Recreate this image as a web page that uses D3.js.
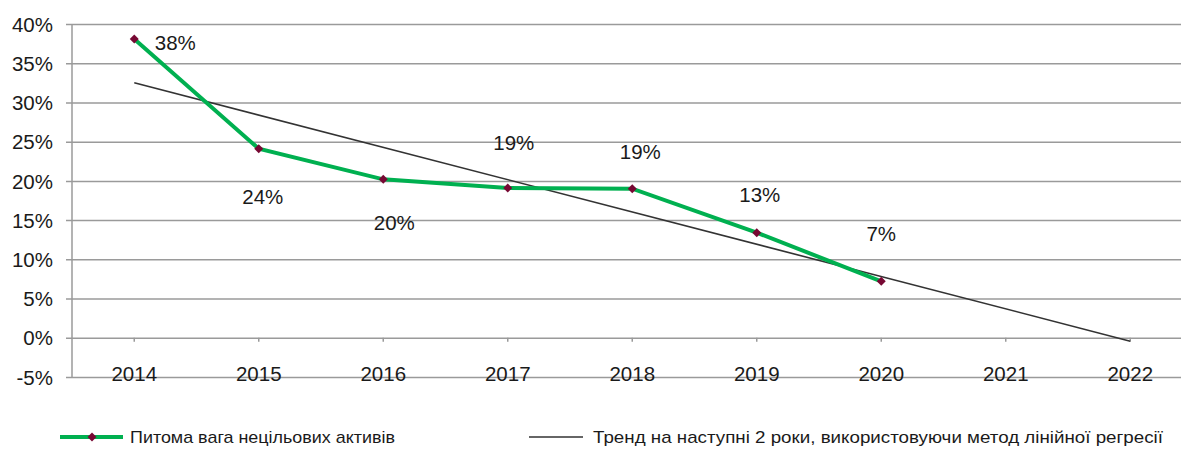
<!DOCTYPE html>
<html>
<head>
<meta charset="utf-8">
<script src="https://cdn.jsdelivr.net/npm/d3@7"></script>
<style>
  body { margin: 0; background: #fff; }
  text { font-family: "Liberation Sans", Arial, sans-serif; fill: #1a1a1a; }
</style>
</head>
<body>
<div class="chart"></div>
<script>
var years = ["2014", "2015", "2016", "2017", "2018", "2019", "2020", "2021", "2022"];
var shareYears = ["2014", "2015", "2016", "2017", "2018", "2019", "2020"];
var shareValues = [38.1, 24.1, 20.2, 19.1, 19.0, 13.4, 7.2];
var shareLabels = ["38%", "24%", "20%", "19%", "19%", "13%", "7%"];
var yTicks = [-5, 0, 5, 10, 15, 20, 25, 30, 35, 40];
var legendNames = ["Питома вага нецільових активів", "Тренд на наступні 2 роки, використовуючи метод лінійної регресії"];

var svgWidth = 1181;
var svgHeight = 455;

var margin = { top: 24, right: -11.5, bottom: 78, left: 72 };
var width = svgWidth - margin.left - margin.right;
var height = svgHeight - margin.top - margin.bottom;

var svg = d3.select(".chart")
  .append("svg")
  .attr("width", svgWidth)
  .attr("height", svgHeight);

var chartGroup = svg.append("g")
  .attr("transform", `translate(${margin.left}, ${margin.top})`);

var xScale = d3.scalePoint()
  .domain(years)
  .range([0, width])
  .padding(0.5);

var yScale = d3.scaleLinear()
  .domain([-5, 40])
  .range([height, 0]);

// gridlines + y labels
var leftAxis = d3.axisLeft(yScale)
  .tickValues(yTicks)
  .tickSize(-width - 6)
  .tickPadding(10)
  .tickFormat(d => d + "%");

var yAxis = chartGroup.append("g")
  .attr("transform", "translate(-6,0)")
  .call(leftAxis);
yAxis.select(".domain").remove();
yAxis.selectAll(".tick line")
  .attr("stroke", "#9a9a9a")
  .attr("stroke-width", 1.5);
yAxis.selectAll(".tick text")
  .style("font-size", "20.5px")
  .attr("x", -13)
  .attr("dy", "0.35em");

// vertical axis line
chartGroup.append("line")
  .attr("x1", 0).attr("x2", 0)
  .attr("y1", 0).attr("y2", height)
  .attr("stroke", "#9a9a9a")
  .attr("stroke-width", 1.5);

// category ticks on the 0% line
chartGroup.append("g")
  .selectAll("line")
  .data(years)
  .enter()
  .append("line")
  .attr("x1", d => xScale(d)).attr("x2", d => xScale(d))
  .attr("y1", yScale(0)).attr("y2", yScale(0) + 4)
  .attr("stroke", "#9a9a9a")
  .attr("stroke-width", 1.5);

// category labels
chartGroup.append("g")
  .selectAll("text")
  .data(years)
  .enter()
  .append("text")
  .attr("x", d => xScale(d))
  .attr("y", height + 3.5)
  .attr("text-anchor", "middle")
  .style("font-size", "20.5px")
  .text(d => d);

// linear regression trend over the observed points, extended to 2022
var idx = shareValues.map((v, i) => i);
var mx = d3.mean(idx), my = d3.mean(shareValues);
var slope = d3.sum(idx, i => (i - mx) * (shareValues[i] - my)) / d3.sum(idx, i => (i - mx) * (i - mx));
var intercept = my - slope * mx;
var trendEnds = [0, years.length - 1];

chartGroup.append("line")
  .attr("x1", xScale(years[trendEnds[0]]))
  .attr("y1", yScale(intercept + slope * trendEnds[0]))
  .attr("x2", xScale(years[trendEnds[1]]))
  .attr("y2", yScale(intercept + slope * trendEnds[1]))
  .attr("stroke", "#333")
  .attr("stroke-width", 1.6);

// main line
var line = d3.line()
  .x((d, i) => xScale(shareYears[i]))
  .y(d => yScale(d));

chartGroup.append("path")
  .datum(shareValues)
  .attr("d", line)
  .attr("fill", "none")
  .attr("stroke", "#00b050")
  .attr("stroke-width", 4);

var diamond = d3.symbol().type(d3.symbolSquare).size(40);

chartGroup.selectAll(".pt")
  .data(shareValues)
  .enter()
  .append("path")
  .attr("class", "pt")
  .attr("d", diamond)
  .attr("transform", (d, i) => `translate(${xScale(shareYears[i])},${yScale(d)}) rotate(45)`)
  .attr("fill", "#770833");

// data labels (offsets in px relative to the point)
var labelOffsets = [[41, 4], [4, 48], [11, 44], [6, -45], [8, -37], [3, -38], [0, -47]];
chartGroup.selectAll(".lbl")
  .data(shareValues)
  .enter()
  .append("text")
  .attr("class", "lbl")
  .attr("x", (d, i) => xScale(shareYears[i]) + labelOffsets[i][0])
  .attr("y", (d, i) => yScale(d) + labelOffsets[i][1])
  .attr("text-anchor", "middle")
  .attr("dy", "0.35em")
  .style("font-size", "20.5px")
  .text((d, i) => shareLabels[i]);

// legend
var legend = svg.append("g").attr("transform", "translate(0,437)");
legend.append("line")
  .attr("x1", 60).attr("x2", 123).attr("y1", 0).attr("y2", 0)
  .attr("stroke", "#00b050").attr("stroke-width", 4);
legend.append("path")
  .attr("d", diamond)
  .attr("transform", "translate(92,0) rotate(45)")
  .attr("fill", "#770833");
legend.append("text")
  .attr("x", 130).attr("y", 0).attr("dy", "0.35em")
  .style("font-size", "17px")
  .attr("textLength", 265)
  .attr("lengthAdjust", "spacingAndGlyphs")
  .text(legendNames[0]);

legend.append("line")
  .attr("x1", 529).attr("x2", 583).attr("y1", 0).attr("y2", 0)
  .attr("stroke", "#333").attr("stroke-width", 1.6);
legend.append("text")
  .attr("x", 593).attr("y", 0).attr("dy", "0.35em")
  .style("font-size", "17px")
  .attr("textLength", 570)
  .attr("lengthAdjust", "spacingAndGlyphs")
  .text(legendNames[1]);
</script>
</body>
</html>
